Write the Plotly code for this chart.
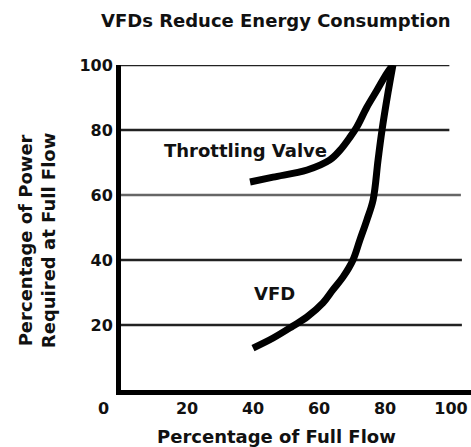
import plotly.graph_objects as go

# ---- data ----
throttle_x = [39.1, 46.1, 56.4, 63.3, 66.4, 69.4, 71.5, 74.5, 77.6, 80.6, 82.4]
throttle_y = [64.0, 65.5, 67.7, 70.8, 73.8, 77.8, 81.0, 87.0, 92.3, 97.5, 100]

vfd_x = [40.0, 46.1, 52.1, 56.4, 61.2, 64.2, 67.3, 70.3, 72.4, 74.5, 76.4, 77.9, 79.1, 80.9, 82.4]
vfd_y = [12.9, 16.0, 19.7, 22.5, 26.8, 30.8, 34.8, 40.0, 46.2, 52.3, 58.5, 70.8, 80.0, 91.4, 100]

x_ticks = [20, 40, 60, 80, 100]
y_ticks = [20, 40, 60, 80, 100]
grid_values = [20, 40, 60, 80, 100]
grid_end_x = [103.3, 103.3, 103.0, 99.5, 99.5]
grid_colors = ["#222222", "#222222", "#666666", "#222222", "#222222"]

title_text = "VFDs Reduce Energy Consumption"
x_title = "Percentage of Full Flow"
y_title = "Percentage of Power<br>Required at Full Flow"

FONT = "DejaVu Sans"

fig = go.Figure()

for gv, gx, gc in zip(grid_values, grid_end_x, grid_colors):
    fig.add_shape(type="line", xref="x", yref="y", x0=0, x1=gx, y0=gv, y1=gv,
                  line=dict(color=gc, width=2.5), layer="below")

fig.add_trace(go.Scatter(x=throttle_x, y=throttle_y, mode="lines",
                         line=dict(color="black", width=7, shape="spline", smoothing=1),
                         showlegend=False, hoverinfo="skip"))
fig.add_trace(go.Scatter(x=vfd_x, y=vfd_y, mode="lines",
                         line=dict(color="black", width=7, shape="spline", smoothing=1),
                         showlegend=False, hoverinfo="skip"))

fig.update_layout(
    width=471, height=447,
    margin=dict(l=121, r=0, t=65, b=57),
    paper_bgcolor="white", plot_bgcolor="white",
    font=dict(family=FONT, color="#111111", size=16, weight="bold"),
    showlegend=False,
    xaxis=dict(range=[0, 106.06], tickvals=x_ticks, ticktext=[str(v) for v in x_ticks],
               showgrid=False, zeroline=False, showline=True, linecolor="black",
               linewidth=5, ticks="", tickfont=dict(size=16, family=FONT, weight="bold"),
               ticklabeloverflow="allow", fixedrange=True),
    yaxis=dict(range=[0, 100], tickvals=y_ticks, ticktext=[str(v) for v in y_ticks],
               showgrid=False, zeroline=False, showline=True, linecolor="black",
               linewidth=5, ticks="", tickfont=dict(size=16, family=FONT, weight="bold"),
               fixedrange=True),
    annotations=[
        dict(text=title_text, xref="paper", yref="paper", x=0.443, y=1.138,
             xanchor="center", yanchor="middle",
             showarrow=False, font=dict(size=18, family=FONT, weight="bold")),
        dict(text=x_title, xref="paper", yref="paper", x=0.443, y=-0.143,
             xanchor="center", yanchor="middle",
             showarrow=False, font=dict(size=18, family=FONT, weight="bold")),
        dict(text=y_title, xref="paper", yref="paper", x=-0.24, y=0.458,
             xanchor="center", yanchor="middle",
             textangle=-90, showarrow=False,
             font=dict(size=18, family=FONT, weight="bold")),
        dict(text="Throttling Valve", xref="x", yref="y", x=37.6, y=73.8,
             showarrow=False, font=dict(size=18, family=FONT, weight="bold")),
        dict(text="VFD", xref="x", yref="y", x=46.4, y=29.8,
             showarrow=False, font=dict(size=18, family=FONT, weight="bold")),
        dict(text="0", xref="paper", yref="paper", x=-0.0514, y=-0.058,
             xanchor="center", yanchor="middle",
             showarrow=False, font=dict(size=16, family=FONT, weight="bold")),
    ],
)

# remove the page's default 8px body margin so the figure fills the window exactly
fig.write_html("out.html",
               config={"displayModeBar": False, "staticPlot": True},
               post_script="document.body.style.margin='0';document.body.style.overflow='hidden';")
